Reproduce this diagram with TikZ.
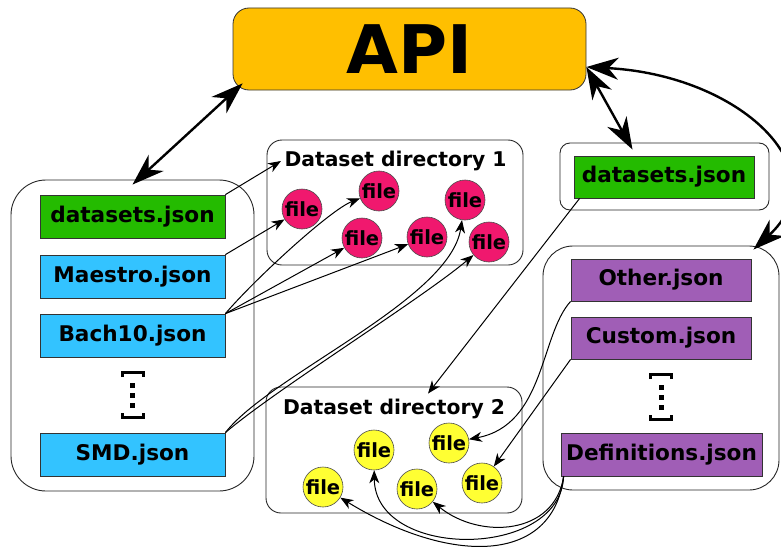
\documentclass[tikz,border=0pt]{standalone}
\usepackage{fontspec}
\setmainfont{DejaVu Sans}
\usetikzlibrary{arrows.meta}
\definecolor{apiorange}{RGB}{255,191,0}
\definecolor{dsgreen}{RGB}{36,187,0}
\definecolor{jsonblue}{RGB}{51,195,255}
\definecolor{filepink}{RGB}{240,24,110}
\definecolor{fileyellow}{RGB}{255,255,51}
\definecolor{defpurple}{RGB}{160,94,182}

\begin{document}
\begin{tikzpicture}
    [x=1pt, y=-1pt,
      group/.style={draw=black!85, line width=0.9pt},
      jsonbox/.style={rectangle, draw=black!80, line width=0.8pt,
        minimum width=185pt, minimum height=43pt, inner sep=0pt,
        font=\bfseries\fontsize{21.6}{24}\selectfont},
      filenode/.style={circle, draw=black!70, line width=0.6pt,
        minimum size=40pt, inner sep=0pt,
        font=\bfseries\fontsize{19.5}{21}\selectfont},
      dirtitle/.style={font=\bfseries\fontsize{20.3}{23}\selectfont},
      link/.style={-{Stealth[length=13pt,width=10pt,inset=4pt]}, line width=1pt},
      apilink/.style={{Stealth[length=32pt,width=22pt,inset=10pt]}-{Stealth[length=32pt,width=22pt,inset=10pt]},
        line width=2.4pt},
     ]
    \useasboundingbox (0,0) rectangle (781,551);

    \node[draw=black!80, line width=0.8pt, fill=apiorange, rounded corners=16pt,
      minimum width=353pt, minimum height=82pt,
      font=\bfseries\fontsize{67}{70}\selectfont] (api) at (409.5,49) {API};

    % groups
    \node[group, rounded corners=35pt, minimum width=243pt, minimum height=311pt] (leftgroup) at (132.5,335.5) {};
    \node[group, rounded corners=15pt, minimum width=256pt, minimum height=125pt] (dir1) at (395,202.5) {};
    \node[group, rounded corners=15pt, minimum width=256pt, minimum height=126pt] (dir2) at (394,450) {};
    \node[group, rounded corners=10pt, minimum width=209pt, minimum height=67pt] (rtopgroup) at (664.5,176.5) {};
    \node[group, rounded corners=30pt, minimum width=236pt, minimum height=244pt] (rbotgroup) at (661,368) {};

    \node[dirtitle] (dir1title) at (395.5,161) {Dataset directory 1};
    \node[dirtitle] (dir2title) at (394,409) {Dataset directory 2};

    % json files
    \node[jsonbox, fill=dsgreen] (dsleft) at (132.5,216.5) {datasets.json};
    \node[jsonbox, fill=jsonblue] (maestro) at (132.5,276.5) {Maestro.json};
    \node[jsonbox, fill=jsonblue] (bach) at (132.5,335.5) {Bach10.json};
    \node[jsonbox, fill=jsonblue] (smd) at (132.5,454.5) {SMD.json};
    \node[jsonbox, fill=dsgreen, minimum width=180pt, minimum height=42pt] (dsright) at (664,177) {datasets.json};
    \node[jsonbox, fill=defpurple, minimum width=180pt, minimum height=42pt] (other) at (661,280) {Other.json};
    \node[jsonbox, fill=defpurple, minimum width=180pt, minimum height=42pt] (custom) at (661,338) {Custom.json};
    \node[jsonbox, fill=defpurple, minimum width=201pt] (defs) at (661.5,454.5) {Definitions.json};

    % "[...]" marks
    \foreach \bx/\by in {132.5/371, 661/373} {
      \draw[line width=3pt] (\bx-10.5,\by+6) -- (\bx-10.5,\by+1.5) -- (\bx+10.5,\by+1.5) -- (\bx+10.5,\by+6);
      \draw[line width=3pt] (\bx-10.5,\by+42) -- (\bx-10.5,\by+46.5) -- (\bx+10.5,\by+46.5) -- (\bx+10.5,\by+42);
      \foreach \k in {0,1,2}
        \fill (\bx-2.5,\by+12+10*\k) rectangle (\bx+2.5,\by+17+10*\k);
    }

    % files
    \foreach \n/\fx/\fy in {1/302/209, 2/379/191, 3/362/238, 4/427/237, 5/465/200, 6/489/242}
      \node[filenode, fill=filepink] (p\n) at (\fx,\fy) {file};
    \foreach \n/\fx/\fy in {1/374/450, 2/449/443, 3/323/487, 4/417/489, 5/482/483}
      \node[filenode, fill=fileyellow] (y\n) at (\fx,\fy) {file};

    % api links
    \draw[apilink] ([xshift=10pt,yshift=7pt]api.south west) -- ([yshift=-5pt]leftgroup.north);
    \draw[apilink] ([yshift=-18pt]api.east) -- ([xshift=-32pt,yshift=-7pt]rtopgroup.north);
    \draw[apilink] ([yshift=-18pt]api.east) .. controls (740,75) and (840,170) .. ([xshift=-26pt,yshift=-4pt]rbotgroup.north east);

    % file links
    \draw[link] (dsleft.north east) -- (dir1title.west);
    \draw[link] (maestro.north east) -- (p1);
    \draw[link] (bach.north east) .. controls (255,279) and (330,210) .. (p2);
    \draw[link] (bach.north east) -- (p3);
    \draw[link] (bach.north east) -- (p4);
    \draw[link] (smd.north east) .. controls (270,375) and (450,300) .. (p5);
    \draw[link] (smd.north east) .. controls (275,390) and (420,300) .. (p6);
    \draw[link] ([xshift=6pt]dsright.south west) -- ([xshift=34pt,yshift=2pt]dir2title.north);
    \draw[link] (other.south west) .. controls (540,335) and (545,425) .. (y2);
    \draw[link] (custom.south west) -- (y5);
    \draw[link] ([xshift=3pt]defs.south west) .. controls (555,535) and (480,540) .. (y4);
    \draw[link] ([xshift=3pt]defs.south west) .. controls (560,560) and (375,560) .. (y1);
    \draw[link] ([xshift=3pt]defs.south west) .. controls (553,565) and (450,565) .. (y3);
\end{tikzpicture}
\end{document}
